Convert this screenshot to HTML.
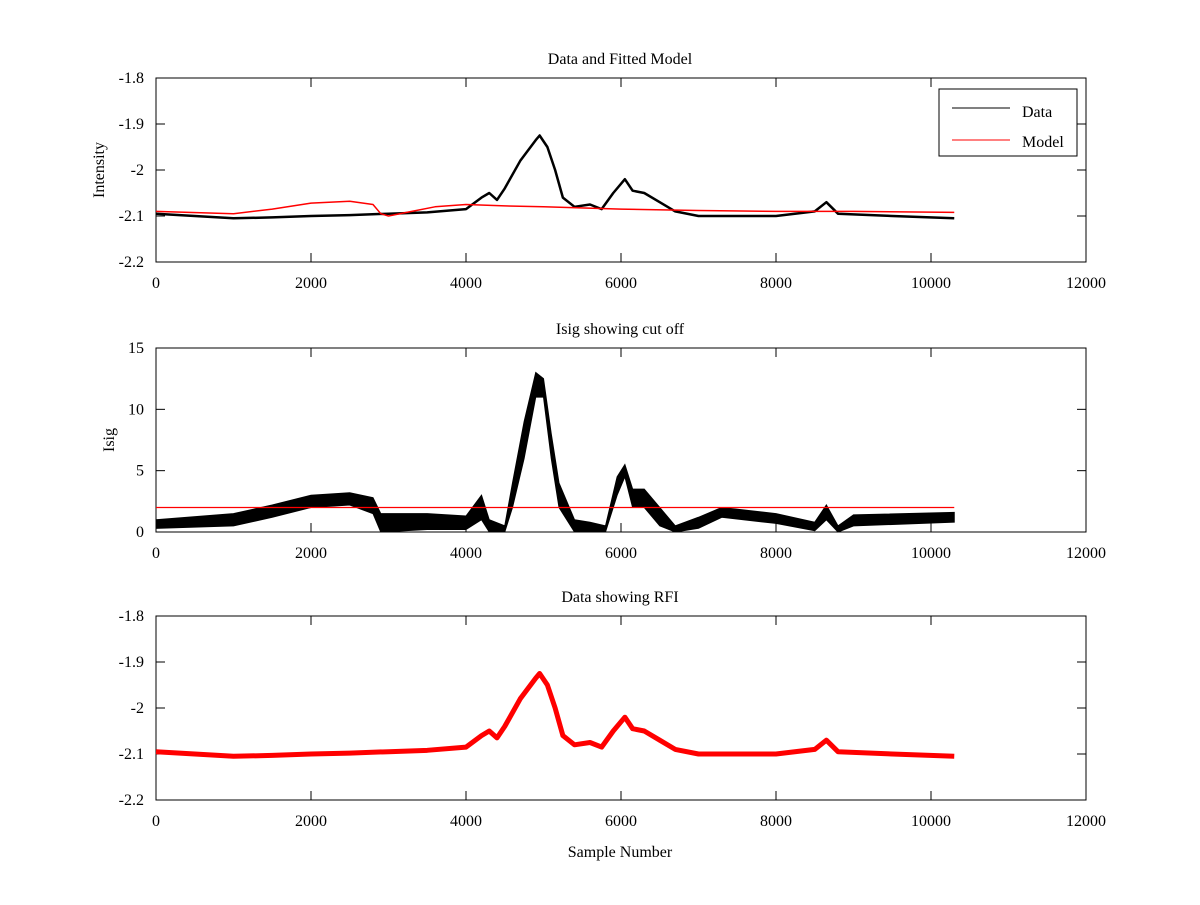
<!DOCTYPE html>
<html><head><meta charset="utf-8"><style>
body{margin:0;background:#fff;}
svg text{font-family:"Liberation Serif",serif;font-size:16px;fill:#000;}
</style></head><body>
<svg id="c" width="1200" height="900" xmlns="http://www.w3.org/2000/svg"></svg>
<script>
const xTicks=[0,2000,4000,6000,8000,10000,12000];
const intTicks=[-1.8,-1.9,-2,-2.1,-2.2];
const isigTicks=[0,5,10,15];
const dataX=[0,500,1000,1500,2000,2500,3000,3500,4000,4200,4300,4400,4500,4700,4900,4950,5050,5150,5250,5400,5600,5750,5900,6050,6150,6300,6500,6700,7000,8000,8500,8650,8800,9500,10300];
const dataY=[-2.095,-2.1,-2.105,-2.103,-2.1,-2.098,-2.095,-2.092,-2.085,-2.06,-2.05,-2.065,-2.04,-1.98,-1.935,-1.925,-1.95,-2.0,-2.06,-2.08,-2.075,-2.085,-2.05,-2.02,-2.045,-2.05,-2.07,-2.09,-2.1,-2.1,-2.09,-2.07,-2.095,-2.1,-2.105];
const modelX=[0,1000,1500,2000,2500,2800,2900,3000,3300,3600,4000,4500,5000,6000,7000,8000,9000,10300];
const modelY=[-2.09,-2.095,-2.085,-2.072,-2.068,-2.075,-2.095,-2.1,-2.09,-2.08,-2.075,-2.078,-2.08,-2.085,-2.088,-2.09,-2.09,-2.092];
const isigX=[0,1000,1500,2000,2500,2800,2900,3500,4000,4200,4300,4500,4600,4750,4900,5000,5100,5200,5400,5600,5800,5950,6050,6150,6300,6500,6700,7000,7300,8000,8500,8650,8800,9000,10300];
const isigLo=[0.3,0.5,1.2,2.0,2.2,1.5,0,0.2,0.2,1,0,0,2,6,11,11,6,2,0,0,0,3,4.5,2,2,0.5,0,0.3,1.2,0.7,0.1,1,0,0.5,0.8];
const isigHi=[1.0,1.5,2.2,3.0,3.2,2.8,1.5,1.5,1.3,3,1,0.5,4,9,13,12.5,8,4,1,0.8,0.5,4.5,5.5,3.5,3.5,2,0.5,1.2,2,1.5,0.8,2.2,0.5,1.4,1.6];
const cutX=[0,10300];
const cutY=[2,2];

const svg=document.getElementById('c');
const NS='http://www.w3.org/2000/svg';
function el(t,a,p){const e=document.createElementNS(NS,t);for(const k in a)e.setAttribute(k,a[k]);(p||svg).appendChild(e);return e;}
const X0=156,X1=1086;
const sx=v=>X0+(v-0)/12000*(X1-X0);
function mkY(top,bot,min,max){return v=>bot-(v-min)/(max-min)*(bot-top);}
function axes(name,top,bot,yT,sy,title,ylab,ylx){
  const g=el('g',{});
  
  
  el('rect',{x:X0,y:top,width:X1-X0,height:bot-top,fill:'#fff',stroke:'#000'},g);
  xTicks.forEach(t=>{const x=sx(t);
    el('line',{x1:x,x2:x,y1:bot,y2:bot-9,stroke:'#000'},g);
    el('line',{x1:x,x2:x,y1:top,y2:top+9,stroke:'#000'},g);
    const tx=el('text',{x:x,y:bot+26,'text-anchor':'middle'},g);tx.textContent=t;
    
    });
  yT.forEach(t=>{const y=sy(t);
    el('line',{x1:X0,x2:X0+9,y1:y,y2:y,stroke:'#000'},g);
    el('line',{x1:X1,x2:X1-9,y1:y,y2:y,stroke:'#000'},g);
    const tx=el('text',{x:X0-12,y:y+5,'text-anchor':'end'},g);tx.textContent=t;
    
    });
  const ti=el('text',{x:620,y:top-14,'text-anchor':'middle'},g);ti.textContent=title;
  
  
  const yl=el('text',{x:ylx,y:(top+bot)/2,'text-anchor':'middle',transform:`rotate(-90 ${ylx} ${(top+bot)/2})`},g);yl.textContent=ylab;
  
  
  return g;
}
function line(xs,ys,sy,col,w,name){
  const p=el('polyline',{points:xs.map((x,i)=>sx(x)+','+sy(ys[i])).join(' '),fill:'none',stroke:col,'stroke-width':w,'stroke-linejoin':'round'});
  
  
}
const sy1=mkY(78,262,-2.2,-1.8);
axes('intensity-axes',78,262,intTicks,sy1,'Data and Fitted Model','Intensity',104);
line(dataX,dataY,sy1,'#000',2.5,'data-line');
line(modelX,modelY,sy1,'#f00',1.5,'model-line');
const lg=el('g',{});


el('rect',{x:939,y:89,width:138,height:67,fill:'#fff',stroke:'#000'},lg);
el('line',{x1:952,x2:1010,y1:108,y2:108,stroke:'#000'},lg);
el('line',{x1:952,x2:1010,y1:140,y2:140,stroke:'#f00'},lg);
let t=el('text',{x:1022,y:117},lg);t.textContent='Data';


t=el('text',{x:1022,y:147},lg);t.textContent='Model';



const sy2=mkY(348,532,0,15);
axes('isig-axes',348,532,isigTicks,sy2,'Isig showing cut off','Isig',114);
const pts=isigX.map((x,i)=>sx(x)+','+sy2(isigHi[i])).concat(isigX.slice().reverse().map((x,j)=>{const i=isigX.length-1-j;return sx(x)+','+sy2(isigLo[i]);}));
const band=el('polygon',{points:pts.join(' '),fill:'#000',stroke:'#000','stroke-width':1});


line(cutX,cutY,sy2,'#f00',1.2,'cutoff-line');

const sy3=mkY(616,800,-2.2,-1.8);
axes('rfi-axes',616,800,intTicks,sy3,'Data showing RFI','',104);
line(dataX,dataY,sy3,'#f00',5,'rfi-line');
const xl=el('text',{x:620,y:857,'text-anchor':'middle'});xl.textContent='Sample Number';


</script>
</body></html>
